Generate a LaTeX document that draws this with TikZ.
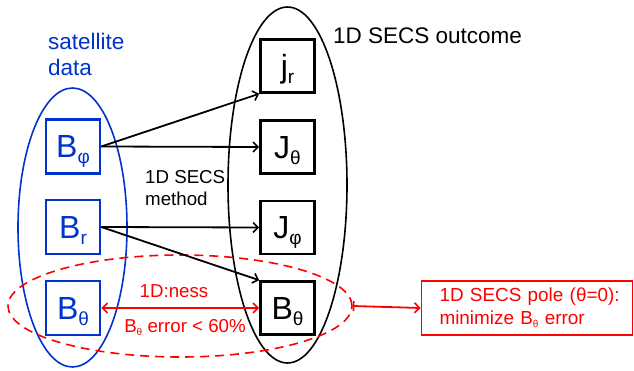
\documentclass[tikz,border=0pt]{standalone}
\usepackage{fontspec}
\setmainfont{Liberation Sans}
\usetikzlibrary{shapes.geometric,arrows.meta}
\definecolor{myblue}{RGB}{0,51,204}
\definecolor{myred}{RGB}{255,0,0}
\newcommand\lsub[1]{\raisebox{-6pt}{\fontsize{19}{19}\selectfont #1}}
\newcommand\ssub[1]{\raisebox{-3pt}{\fontsize{10}{10}\selectfont #1}}
\begin{document}
\begin{tikzpicture}[x=1pt,y=-1pt,
  bluebox/.style={draw=myblue, line width=2.6pt, minimum width=54pt, minimum height=54pt,
    inner sep=0pt, text=myblue, font=\fontsize{32}{32}\selectfont, text height=23pt, text depth=0pt},
  blackbox/.style={draw=black, line width=2.6pt, minimum width=54pt, minimum height=53pt,
    inner sep=0pt, text=black, font=\fontsize{32}{32}\selectfont, text height=23pt, text depth=0pt},
  ell/.style={ellipse, inner sep=0pt, line width=1.6pt},
  conn/.style={line width=1.8pt, -{Straight Barb[length=5pt,width=10pt,line width=1.6pt]}},
  redconn/.style={line width=1.8pt, draw=myred},
  bigtxt/.style={font=\fontsize{22.5}{26}\selectfont, inner sep=0pt},
  smalltxt/.style={font=\fontsize{18.7}{22}\selectfont, inner sep=0pt}
]
\useasboundingbox (0,0) rectangle (634,371);

% ellipses
\node[ell, draw=myblue, minimum width=109pt, minimum height=279pt] (blueell) at (72.5,227.5) {};
\node[ell, draw=black, minimum width=119pt, minimum height=356pt] (blackell) at (287.5,185) {};
\node[ell, draw=myred, dash pattern=on 9pt off 6pt, minimum width=344pt, minimum height=102pt] (redell) at (180,306) {};

% headings
\node[bigtxt, text=myblue, align=left, anchor=north west] (sat) at (48,32.5) {satellite\\data};
\node[bigtxt, anchor=base west] (outcome) at (333,44) {1D SECS outcome};
\node[smalltxt, align=left, anchor=north west] (method) at (145,170.5) {1D SECS\\method};

% satellite data boxes
\node[bluebox] (bphi) at (73,146.5) {B\lsub{φ}};
\node[bluebox] (br) at (73,227) {B\lsub{r}};
\node[bluebox] (bth) at (73,308) {B\lsub{θ}};

% outcome boxes
\node[blackbox] (jr) at (287.5,66) {j\lsub{r}};
\node[blackbox] (jth) at (287.5,147) {J\lsub{θ}};
\node[blackbox] (jphi) at (287.5,227.5) {J\lsub{φ}};
\node[blackbox] (bth2) at (287.5,308) {B\lsub{θ}};

% connectors
\draw[conn] (bphi.east) -- (jr.south west);
\draw[conn] (bphi.east) -- (jth.west);
\draw[conn] (br.east) -- (jphi.west);
\draw[conn] (br.east) -- (bth2.north west);

\draw[redconn, {Straight Barb[length=5pt,width=10pt,line width=1.6pt]}-{Straight Barb[length=5pt,width=10pt,line width=1.6pt]}] (bth.east) -- (bth2.west);
\node[smalltxt, text=myred, anchor=base] (ness) at (174,297) {1D:ness};
\node[smalltxt, text=myred, anchor=base] (err) at (185,332) {B\ssub{θ} error < 60\%};

% pole box
\node[draw=myred, line width=1.8pt, text=myred, minimum width=211pt, minimum height=54pt,
  inner xsep=18pt, inner ysep=0pt, text width=175pt, align=left,
  font=\fontsize{18.9}{23}\selectfont] (pole) at (527,308) {\mbox{1D SECS pole (θ=0):}\\\mbox{minimize B\ssub{θ} error}};
\draw[redconn, {Bar[width=10pt,line width=1.6pt]}-{Straight Barb[length=5pt,width=10pt,line width=1.6pt]}] (redell.east) -- (pole.west);
\end{tikzpicture}
\end{document}
